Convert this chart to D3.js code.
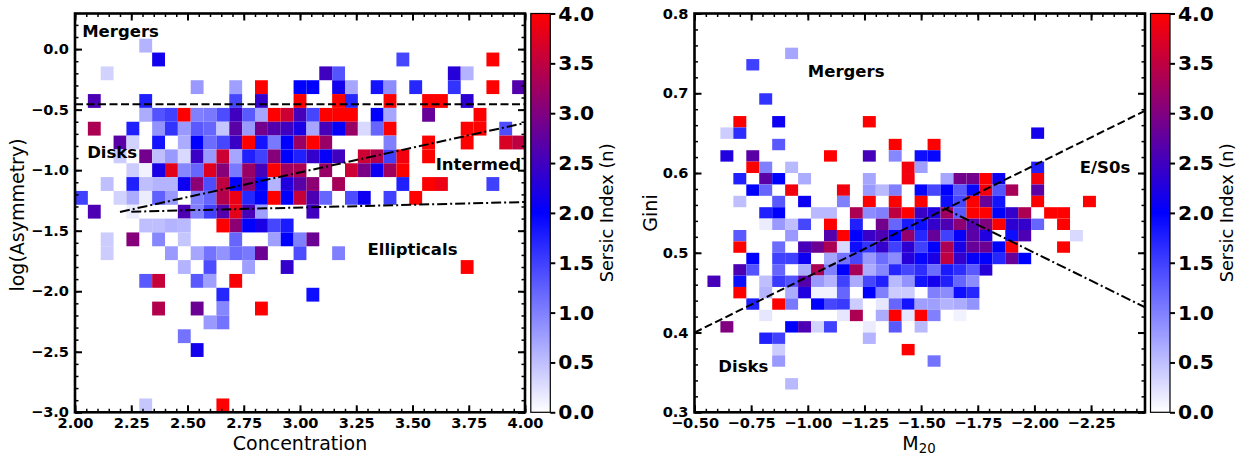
<!DOCTYPE html>
<html><head><meta charset="utf-8">
<script src="https://cdn.jsdelivr.net/npm/d3@7/dist/d3.min.js"></script>
<style>
html,body{margin:0;padding:0;background:#fff}
svg{display:block}
text{font-family:"DejaVu Sans",sans-serif;fill:#000}
</style></head><body>
<svg id="c" width="1251" height="457"></svg>
<script>
// [column, row from top, Sersic n] for the concentration-asymmetry histogram
const leftCells = [
[5,0,.6],
[6,1,2.15],[25,1,1.45],[32,1,4],
[2,2,.35],[19,2,2.5],[20,2,1.35],[29,2,2.3],[30,2,.6],
[9,3,.8],[12,3,.75],[14,3,4],[17,3,2],[18,3,2],[20,3,2.15],[21,3,.7],[23,3,1.85],[24,3,.9],[26,3,1.7],[29,3,1.6],[32,3,4],[34,3,2.65],
[1,4,2.6],[5,4,1.75],[12,4,1.45],[14,4,2.4],[17,4,4],[20,4,4],[21,4,1.7],[24,4,4],[27,4,4],[28,4,4],[30,4,2.35],
[5,5,.65],[6,5,1.35],[7,5,1.5],[8,5,4],[9,5,1],[10,5,1.05],[11,5,1.4],[12,5,2.5],[13,5,1.3],[14,5,.7],[15,5,4],[16,5,3.6],[17,5,2.55],[18,5,1.45],[19,5,4],[20,5,4],[21,5,4],[23,5,2],[24,5,.7],[27,5,2.8],[31,5,4],
[1,6,3.35],[4,6,1.75],[6,6,.85],[7,6,1.6],[8,6,.8],[9,6,1.3],[10,6,1.2],[11,6,.45],[12,6,2.7],[13,6,.8],[14,6,2.9],[15,6,2.65],[16,6,2.5],[17,6,2.2],[18,6,.7],[19,6,2.55],[20,6,2.05],[21,6,3.2],[22,6,.3],[23,6,1.2],[24,6,4],[30,6,4],[31,6,4],[33,6,1.4],
[3,7,2.7],[4,7,.35],[6,7,1.85],[8,7,.65],[9,7,2],[10,7,1.15],[11,7,1.45],[12,7,2.45],[13,7,4],[14,7,1.85],[15,7,1.05],[16,7,2],[17,7,3.2],[18,7,4],[19,7,3.2],[24,7,1],[27,7,4],[30,7,4],[33,7,3.7],[34,7,3.5],
[3,8,.4],[5,8,2.9],[6,8,.5],[7,8,.8],[8,8,.3],[9,8,2.45],[10,8,.8],[11,8,3.6],[12,8,.7],[13,8,1.75],[14,8,1.5],[15,8,3.05],[16,8,2],[17,8,1.75],[18,8,2.4],[19,8,2.05],[20,8,2.5],[22,8,3.6],[23,8,3.4],[24,8,1.5],[25,8,3.9],[27,8,4],
[4,9,.4],[5,9,.1],[6,9,2.2],[7,9,3.8],[8,9,.95],[9,9,1.2],[10,9,3.75],[11,9,3.05],[12,9,1.05],[13,9,3.2],[14,9,2.55],[15,9,4],[16,9,3.25],[17,9,3.35],[19,9,3.2],[21,9,3.6],[22,9,2.95],[23,9,2.1],[24,9,3.25],[25,9,4],
[2,10,.5],[4,10,1.75],[5,10,.5],[6,10,.6],[7,10,.6],[8,10,2.1],[9,10,3.1],[10,10,1.4],[11,10,3.5],[12,10,2],[13,10,3.1],[14,10,2],[15,10,.6],[16,10,2.25],[17,10,2.7],[18,10,3.1],[20,10,3.3],[25,10,1.75],[27,10,4],[28,10,3.85],[32,10,1.5],
[0,11,1.5],[3,11,.35],[4,11,.65],[5,11,.15],[6,11,1.25],[7,11,.8],[9,11,1],[10,11,1.2],[11,11,3.4],[12,11,3.85],[13,11,1.7],[14,11,2],[15,11,4],[16,11,2],[17,11,3.55],[18,11,2.6],[19,11,1.2],[21,11,1.4],[22,11,2.1],[24,11,1.5],[26,11,4],
[1,12,2.6],[4,12,.15],[8,12,2.6],[9,12,1],[10,12,1.5],[11,12,2.65],[12,12,3.8],[13,12,2.55],[14,12,.75],[18,12,2.5],
[5,13,.5],[6,13,.5],[7,13,.6],[8,13,.55],[11,13,4],[12,13,3.1],[13,13,2],[14,13,2.2],[15,13,1.45],[16,13,1.8],
[2,14,.4],[4,14,3.05],[6,14,.95],[8,14,.45],[12,14,1.2],[15,14,.75],[16,14,2],[17,14,1],[18,14,2.85],
[2,15,.4],[7,15,.8],[9,15,.7],[10,15,1.1],[11,15,.85],[12,15,1.15],[13,15,1.05],[14,15,2.85],[17,15,1.4],[20,15,1],
[8,16,.6],[10,16,1.4],[13,16,.75],[16,16,2.4],[30,16,4],
[5,17,1.3],[6,17,3.55],[9,17,1.3],[10,17,.75],[12,17,3.95],
[11,18,1.7],[18,18,1.9],
[6,19,3.4],[9,19,2.85],[11,19,.95],[14,19,4],
[10,20,.8],[11,20,1.1],
[8,21,1.1],
[9,22,2.15],
[5,26,.45],[11,26,4]
];
// [column, row from top, Sersic n] for the M20-Gini histogram
const rightCells = [
[7,3,.7],
[4,4,1.5],
[5,7,1.6],
[3,9,4],[6,9,2.1],[13,9,4],
[2,10,.4],[3,10,1.65],[26,10,2.15],
[6,11,1.3],[15,11,4],[18,11,4],
[2,12,2.25],[4,12,2.7],[10,12,4],[13,12,2.55],[15,12,.95],[17,12,1.9],[18,12,1.95],
[4,13,4],[5,13,1],[7,13,.55],[16,13,3.9],[17,13,.75],[26,13,1.75],
[3,14,1.75],[5,14,2.7],[6,14,2],[8,14,.65],[13,14,.7],[16,14,3.9],[19,14,.7],[20,14,2.9],[21,14,2.9],[22,14,4],[23,14,2.1],[26,14,3.9],
[4,15,2],[5,15,1.2],[7,15,3.9],[11,15,3.9],[13,15,.8],[14,15,.55],[15,15,1],[17,15,1.95],[18,15,1.45],[19,15,2],[20,15,1.3],[21,15,1.95],[22,15,3.9],[23,15,1.35],[24,15,3.3],[26,15,2.7],
[3,16,.5],[6,16,1.3],[8,16,2.1],[11,16,1],[13,16,4],[15,16,4],[17,16,4],[19,16,1.9],[20,16,1.45],[21,16,4],[22,16,2.8],[23,16,1.85],[26,16,4],[30,16,4],
[5,17,1.75],[6,17,2],[9,17,.55],[10,17,.55],[12,17,3.35],[13,17,.9],[14,17,1],[15,17,3.5],[16,17,4],[17,17,2.45],[18,17,2.25],[19,17,3.25],[20,17,1.3],[21,17,4],[22,17,4],[23,17,2],[24,17,2.4],[25,17,3.35],[27,17,4],[28,17,4],
[5,18,.15],[6,18,.8],[7,18,.5],[8,18,1.45],[10,18,4],[12,18,1.75],[14,18,2.9],[15,18,1.2],[16,18,1.8],[17,18,1.9],[18,18,2.4],[19,18,2.6],[20,18,3.1],[21,18,2.65],[22,18,3],[23,18,4],[24,18,2.35],[25,18,2.4],[26,18,1.2],[28,18,4],
[3,19,1.3],[7,19,.8],[10,19,2.65],[11,19,4],[12,19,2],[13,19,2.45],[14,19,2.6],[15,19,2],[16,19,3.15],[17,19,1.7],[18,19,2.8],[19,19,1.5],[20,19,2.05],[21,19,2.7],[22,19,2.25],[24,19,1.9],[25,19,2.6],[29,19,.3],
[3,20,4],[6,20,1.15],[8,20,2.55],[9,20,2.85],[10,20,3.35],[11,20,.3],[12,20,1.9],[13,20,1.6],[14,20,2.4],[15,20,1.5],[16,20,2.35],[17,20,1.5],[18,20,2],[19,20,3.35],[20,20,2.2],[21,20,2.8],[22,20,2.85],[23,20,2],[24,20,3.95],[28,20,4],
[4,21,2],[6,21,1.5],[7,21,1.5],[8,21,2.1],[10,21,.7],[11,21,1.1],[12,21,1.45],[13,21,.8],[14,21,1.15],[15,21,.9],[16,21,2.3],[17,21,1.95],[18,21,2.2],[19,21,3.5],[20,21,2.4],[21,21,2.05],[22,21,2],[23,21,1.7],[24,21,2.8],[25,21,2],
[3,22,2.6],[4,22,1.35],[6,22,1.2],[8,22,.65],[9,22,3.35],[10,22,1],[11,22,2],[12,22,3.3],[13,22,.65],[14,22,.95],[15,22,1.7],[16,22,1.45],[17,22,1.65],[18,22,1.15],[19,22,1.8],[20,22,1.65],[21,22,1.3],[22,22,2.3],
[1,23,2.55],[3,23,1.9],[5,23,.5],[6,23,1.55],[7,23,1.35],[8,23,2.65],[9,23,.8],[10,23,.6],[11,23,1.5],[12,23,.65],[13,23,1.45],[14,23,1.75],[15,23,.55],[16,23,.85],[17,23,1.85],[18,23,2.15],[19,23,1.75],[20,23,1.2],[21,23,.9],
[3,24,4],[5,24,.6],[7,24,.65],[8,24,2.25],[9,24,.1],[10,24,.1],[11,24,1.2],[13,24,2],[14,24,1],[15,24,.4],[16,24,.4],[18,24,1],[19,24,.9],[20,24,1.9],[21,24,1.7],
[4,25,1.75],[6,25,4],[7,25,1.05],[9,25,2],[10,25,1.45],[11,25,1.55],[12,25,.4],[14,25,.2],[15,25,1.2],[16,25,1.85],[17,25,.75],[18,25,.75],[19,25,.6],[20,25,.65],[21,25,.85],
[5,26,.2],[11,26,.2],[12,26,3.35],[14,26,.65],[15,26,4],[16,26,.2],[17,26,4],[18,26,1],[20,26,.1],
[2,27,3],[7,27,2],[8,27,2.6],[9,27,.35],[10,27,1.5],[13,27,.15],[15,27,1.3],[17,27,.55],
[5,28,1.75],[6,28,1.5],[13,28,.6],
[6,29,.4],[16,29,4],
[6,30,.8],[18,30,1.1],
[7,32,.55]
];
const leftXTicks = [2,2.25,2.5,2.75,3,3.25,3.5,3.75,4];
const leftYTicks = [0,-.5,-1,-1.5,-2,-2.5,-3];
const rightXTicks = [-.5,-.75,-1,-1.25,-1.5,-1.75,-2,-2.25];
const rightYTicks = [.3,.4,.5,.6,.7,.8];
const cbarTicks = [0,.5,1,1.5,2,2.5,3,3.5,4];
const leftLines = [
  {pts:[[2,-.456],[4,-.456]],dash:"8,3.5"},
  {pts:[[2.2,-1.345],[4,-.61]],dash:"10,3,2,3"},
  {pts:[[2.25,-1.343],[4,-1.263]],dash:"10,3,2,3"}
];
const rightLines = [
  {pts:[[-.5,.4],[-2.488,.678]],dash:"8,3.5"},
  {pts:[[-1.6,.556],[-2.488,.4317]],dash:"10,3,2,3"}
];
const leftNotes = [["Mergers",2.032,.103],["Disks",2.054,-.897],["Intermed",3.603,-1.0],["Ellipticals",3.3,-1.7]];
const rightNotes = [["Mergers",-1.0,.7204],["Disks",-.605,.35],["E/S0s",-2.2,.6]];

const svg = d3.select("#c");
const color = d3.scaleLinear().domain([0,2,4]).range(["#ffffff","#0000ff","#ff0000"]);
const fmtMinus = f => v => d3.format(f)(v).replace("-","\u2212");

const defs = svg.append("defs");
const grad = defs.append("linearGradient").attr("id","cb").attr("x1",0).attr("x2",0).attr("y1",1).attr("y2",0);
cbarTicks.forEach(t=>grad.append("stop").attr("offset",t/4).attr("stop-color",color(t)));

function panel(o){
  const x = d3.scaleLinear().domain(o.xd).range([o.L,o.R]);
  const y = d3.scaleLinear().domain(o.yd).range([o.B,o.T]);
  const cid = "clip"+o.id;
  defs.append("clipPath").attr("id",cid).append("rect").attr("x",o.L).attr("y",o.T).attr("width",o.R-o.L).attr("height",o.B-o.T);
  const g = svg.append("g");
  g.append("g").attr("clip-path",`url(#${cid})`).selectAll("rect").data(o.cells).join("rect")
    .attr("x",d=>Math.min(x(o.cx(d[0])),x(o.cx(d[0]+1))))
    .attr("width",d=>Math.abs(x(o.cx(d[0]+1))-x(o.cx(d[0]))))
    .attr("y",d=>y(o.cy(d[1])))
    .attr("height",d=>y(o.cy(d[1]+1))-y(o.cy(d[1])))
    .attr("fill",d=>color(d[2]));
  const line = d3.line().x(d=>x(d[0])).y(d=>y(d[1]));
  g.selectAll("path.l").data(o.lines).join("path").attr("class","l")
    .attr("d",d=>line(d.pts)).attr("fill","none").attr("stroke","#000").attr("stroke-width",2).attr("stroke-dasharray",d=>d.dash);
  g.selectAll("text.n").data(o.notes).join("text").attr("class","n")
    .attr("x",d=>x(d[1])).attr("y",d=>y(d[2])).attr("font-size",16.5).attr("font-weight","bold").text(d=>d[0]);
  const ax = (gen,tr,vals,len,w,fmt,pad)=>{
    const a = g.append("g").attr("transform",tr).call(gen.tickValues(vals).tickSize(-len).tickPadding(pad||0).tickFormat(fmt||""));
    a.select(".domain").remove();
    a.selectAll("line").attr("stroke","#000").attr("stroke-width",w);
    a.selectAll("text").attr("font-size",14.6).attr("font-weight","bold").attr("font-family",'"DejaVu Sans",sans-serif').attr("fill","#000");
    return a;
  };
  ax(d3.axisBottom(x),`translate(0,${o.B})`,o.xMinor,3.5,1.5);
  ax(d3.axisTop(x),`translate(0,${o.T})`,o.xMinor,3.5,1.5);
  ax(d3.axisLeft(y),`translate(${o.L},0)`,o.yMinor,3.5,1.5);
  ax(d3.axisRight(y),`translate(${o.R},0)`,o.yMinor,3.5,1.5);
  ax(d3.axisBottom(x),`translate(0,${o.B})`,o.xTicks,7,2,fmtMinus(".2f"),5);
  ax(d3.axisTop(x),`translate(0,${o.T})`,o.xTicks,7,2);
  ax(d3.axisLeft(y),`translate(${o.L},0)`,o.yTicks,7,2,fmtMinus(".1f"),6);
  ax(d3.axisRight(y),`translate(${o.R},0)`,o.yTicks,7,2);
  g.append("rect").attr("x",o.L).attr("y",o.T).attr("width",o.R-o.L).attr("height",o.B-o.T)
    .attr("fill","none").attr("stroke","#000").attr("stroke-width",2.6);
  // colour bar
  const cy = d3.scaleLinear().domain([0,4]).range([o.B,o.T]);
  g.append("rect").attr("x",o.CL).attr("y",o.T).attr("width",19.5).attr("height",o.B-o.T).attr("fill","url(#cb)").attr("stroke","#000").attr("stroke-width",1.2);
  const ca = g.append("g").attr("transform",`translate(${o.CL+19.5},0)`).call(d3.axisRight(cy).tickValues(cbarTicks).tickSize(5).tickPadding(3).tickFormat(d3.format(".1f")));
  ca.select(".domain").remove();
  ca.selectAll("line").attr("stroke","#000").attr("stroke-width",2);
  ca.selectAll("text").attr("font-size",20.3).attr("font-weight","bold").attr("font-family",'"DejaVu Sans",sans-serif').attr("fill","#000");
  g.append("text").attr("transform",`translate(${o.CL+82},${(o.T+o.B)/2}) rotate(-90)`).attr("text-anchor","middle").attr("font-size",17.8).text("Sersic Index (n)");
  return g;
}

const leftDx = 2/35, leftDy = 3.2/28;
const gL = panel({id:"L",L:75,R:525,T:13.5,B:412.3,xd:[2,4],yd:[-3,.2941],
  cells:leftCells,cx:c=>2+c*leftDx,cy:r=>-3+(27-r)*leftDy,lines:leftLines,notes:leftNotes,
  xTicks:leftXTicks,yTicks:leftYTicks,xMinor:d3.range(0,41).map(i=>2+i*.05),yMinor:d3.range(0,33).map(i=>-3+i*.1),CL:530.8});
const rightDx = 2/35, rightDy = .5/35;
const gR = panel({id:"R",L:694.5,R:1145,T:13.5,B:412.3,xd:[-.5,-2.488],yd:[.3,.8],
  cells:rightCells,cx:c=>-.5-c*rightDx,cy:r=>.8-r*rightDy,lines:rightLines,notes:rightNotes,
  xTicks:rightXTicks,yTicks:rightYTicks,xMinor:d3.range(0,40).map(i=>-.5-i*.05),yMinor:d3.range(0,26).map(i=>.3+i*.02),CL:1150.5});

gL.append("text").attr("x",300).attr("y",450).attr("text-anchor","middle").attr("font-size",19).text("Concentration");
gL.append("text").attr("transform","translate(24,215) rotate(-90)").attr("text-anchor","middle").attr("font-size",19).text("log(Asymmetry)");
gR.append("text").attr("transform","translate(656.5,213) rotate(-90)").attr("text-anchor","middle").attr("font-size",19).text("Gini");
const m = gR.append("text").attr("x",919).attr("y",450).attr("text-anchor","middle").attr("font-size",19);
m.append("tspan").text("M");
m.append("tspan").attr("font-size",13.3).attr("dy",3).text("20");
</script>
</body></html>
